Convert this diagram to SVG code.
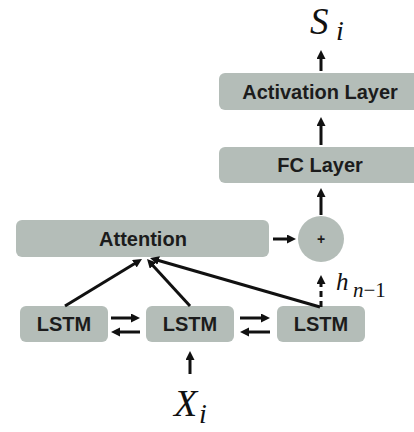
<svg xmlns="http://www.w3.org/2000/svg" width="414" height="432" viewBox="0 0 414 432">
<style>
.box{fill:#b4bdb8}
.lbl{font-family:"Liberation Sans",Arial,sans-serif;font-weight:bold;font-size:20px;fill:#1c1c1c;text-anchor:middle}
.math{font-family:"Liberation Serif","Times New Roman",serif;font-style:italic;fill:#111}
.ln{stroke:#111;stroke-width:3;fill:none}
</style>
<defs>
<marker id="ah" markerUnits="userSpaceOnUse" markerWidth="10" markerHeight="10" refX="1" refY="4.5" orient="auto">
<path d="M0,0 L9,4.5 L0,9 z" fill="#111"/>
</marker>
</defs>
<rect width="414" height="432" fill="#fff"/>
<g id="activation"><rect class="box" x="219" y="73" width="205" height="37" rx="6"/><text class="lbl" x="320" y="99">Activation Layer</text></g>
<g id="fc"><rect class="box" x="219" y="147" width="205" height="36" rx="6"/><text class="lbl" x="320" y="172">FC Layer</text></g>
<g id="attention"><rect class="box" x="16" y="220" width="253" height="37" rx="6"/><text class="lbl" x="143" y="246">Attention</text></g>
<g id="plus"><circle class="box" cx="321" cy="239" r="23"/><text class="lbl" x="321" y="244" style="font-size:14px">+</text></g>
<g id="lstm1"><rect class="box" x="20" y="306" width="88" height="36" rx="6"/><text class="lbl" x="64" y="331">LSTM</text></g>
<g id="lstm2"><rect class="box" x="146" y="306" width="88" height="36" rx="6"/><text class="lbl" x="190" y="331">LSTM</text></g>
<g id="lstm3"><rect class="box" x="277" y="306" width="88" height="36" rx="6"/><text class="lbl" x="321" y="331">LSTM</text></g>
<g id="labels">
<text class="math" x="310" y="34" font-size="37">S<tspan x="336" y="40" font-size="28">i</tspan></text>
<text class="math" x="174" y="416" font-size="38">X<tspan x="199" y="423" font-size="28">i</tspan></text>
<text class="math" x="336" y="290" font-size="25">h<tspan x="353" y="297" font-size="21">n<tspan font-style="normal">−1</tspan></tspan></text>
</g>
<g id="connectors">
<line class="ln" x1="321" y1="71" x2="321" y2="58" marker-end="url(#ah)"/>
<line class="ln" x1="321" y1="145" x2="321" y2="125" marker-end="url(#ah)"/>
<line class="ln" x1="321" y1="215" x2="321" y2="196" marker-end="url(#ah)"/>
<line class="ln" x1="321" y1="307" x2="321" y2="283" stroke-dasharray="6,4" marker-end="url(#ah)"/>
<line class="ln" x1="273" y1="239" x2="288" y2="239" marker-end="url(#ah)"/>
<line class="ln" x1="190" y1="374" x2="190" y2="359" marker-end="url(#ah)"/>
<line class="ln" x1="111" y1="318" x2="132" y2="318" marker-end="url(#ah)"/>
<line class="ln" x1="140" y1="332" x2="119" y2="332" marker-end="url(#ah)"/>
<line class="ln" x1="240" y1="318" x2="262" y2="318" marker-end="url(#ah)"/>
<line class="ln" x1="270" y1="332" x2="248" y2="332" marker-end="url(#ah)"/>
<line class="ln" x1="65" y1="306" x2="135.2" y2="263.2" marker-end="url(#ah)"/>
<line class="ln" x1="190" y1="306" x2="152.4" y2="264.9" marker-end="url(#ah)"/>
<line class="ln" x1="320" y1="307" x2="157.7" y2="260.2" marker-end="url(#ah)"/>
</g>
</svg>
